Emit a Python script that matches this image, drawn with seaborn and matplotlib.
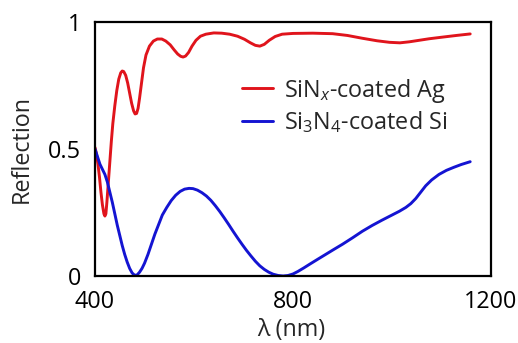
import matplotlib
matplotlib.use("Agg")
import matplotlib.pyplot as plt
import seaborn as sns
import pandas as pd

# Reflection spectra (wavelength in nm, reflection 0-1)
ag_wavelength = [400, 403, 406, 409, 412, 415, 418, 420, 422, 424, 427, 430, 433,
                 436, 440, 444, 448, 452, 455, 458, 462, 466, 470, 474, 478, 481,
                 484, 487, 490, 494, 498, 503, 510, 518, 526, 535, 543, 552, 560,
                 567, 573, 578, 583, 589, 596, 604, 613, 624, 640, 656, 672, 688,
                 702, 714, 724, 733, 742, 752, 764, 778, 800, 840, 880, 910, 940,
                 970, 995, 1016, 1035, 1055, 1075, 1100, 1130, 1158]
ag_reflection = [0.506, 0.48, 0.44, 0.39, 0.33, 0.28, 0.245, 0.236, 0.245, 0.29,
                 0.37, 0.45, 0.53, 0.60, 0.67, 0.73, 0.775, 0.80, 0.807, 0.805,
                 0.79, 0.76, 0.72, 0.68, 0.65, 0.638, 0.64, 0.66, 0.70, 0.76, 0.82,
                 0.87, 0.905, 0.925, 0.933, 0.933, 0.925, 0.91, 0.89, 0.874, 0.865,
                 0.862, 0.866, 0.88, 0.905, 0.928, 0.944, 0.952, 0.957, 0.956,
                 0.952, 0.944, 0.932, 0.918, 0.908, 0.905, 0.912, 0.928, 0.943,
                 0.952, 0.955, 0.956, 0.954, 0.947, 0.936, 0.926, 0.920, 0.918,
                 0.922, 0.928, 0.934, 0.940, 0.947, 0.953]

si_wavelength = [400, 405, 410, 415, 420, 425, 430, 435, 440, 445, 450, 455, 460,
                 465, 470, 475, 480, 485, 490, 495, 500, 507, 514, 521, 528, 536,
                 545, 554, 563, 572, 581, 590, 598, 607, 616, 625, 634, 643, 652,
                 661, 670, 679, 688, 697, 706, 715, 724, 733, 742, 751, 760, 770,
                 780, 790, 800, 810, 822, 835, 850, 866, 882, 900, 920, 940, 960,
                 980, 1000, 1015, 1028, 1038, 1048, 1058, 1068, 1080, 1095, 1110,
                 1125, 1140, 1158]
si_reflection = [0.50, 0.47, 0.44, 0.42, 0.40, 0.37, 0.33, 0.29, 0.245, 0.20,
                 0.16, 0.12, 0.085, 0.055, 0.03, 0.012, 0.003, 0.004, 0.015, 0.03,
                 0.05, 0.085, 0.125, 0.165, 0.20, 0.24, 0.27, 0.297, 0.318, 0.333,
                 0.342, 0.345, 0.344, 0.338, 0.328, 0.315, 0.298, 0.277, 0.254,
                 0.229, 0.203, 0.176, 0.150, 0.125, 0.101, 0.079, 0.058, 0.040,
                 0.026, 0.015, 0.007, 0.002, 0.0, 0.002, 0.008, 0.018, 0.032,
                 0.048, 0.066, 0.085, 0.104, 0.125, 0.150, 0.176, 0.199, 0.220,
                 0.24, 0.255, 0.27, 0.285, 0.305, 0.33, 0.355, 0.378, 0.40, 0.416,
                 0.428, 0.439, 0.45]

labels = [r"SiN$_{\mathit{x}}$-coated Ag", r"Si$_3$N$_4$-coated Si"]
colors = ["#e0141c", "#1414d2"]

x_ticks = [400, 600, 800, 1000, 1200]
x_tick_labels = ["400", "", "800", "", "1200"]
y_ticks = [0, 0.5, 1]
y_tick_labels = ["0", "0.5", "1"]

df = pd.concat([
    pd.DataFrame({"wl": ag_wavelength, "R": ag_reflection, "sample": labels[0]}),
    pd.DataFrame({"wl": si_wavelength, "R": si_reflection, "sample": labels[1]}),
])

sns.set_style("white")
plt.rcParams["font.family"] = ["Open Sans", "DejaVu Sans"]
plt.rcParams["mathtext.fontset"] = "custom"
plt.rcParams["mathtext.rm"] = "Open Sans"
plt.rcParams["mathtext.it"] = "Open Sans:italic"

FS = 16.8

fig = plt.figure(figsize=(5.18, 3.43), dpi=100)
ax = fig.add_axes([95 / 518, 1 - 276 / 343, 396 / 518, 254 / 343])

sns.lineplot(data=df, x="wl", y="R", hue="sample", palette=colors,
             linewidth=2.1, ax=ax, sort=False, estimator=None)

ax.set_xlim(400, 1200)
ax.set_ylim(0, 1)
ax.set_xticks(x_ticks)
ax.set_xticklabels(x_tick_labels)
ax.set_yticks(y_ticks)
ax.set_yticklabels(y_tick_labels)
ax.tick_params(axis="both", direction="out", length=7, width=1.6,
               labelsize=FS, pad=3, color="black", labelcolor="black")
for s in ax.spines.values():
    s.set_visible(True)
    s.set_linewidth(1.6)
    s.set_color("black")

ax.set_xlabel("λ (nm)", fontsize=FS)
ax.set_ylabel("Reflection", fontsize=FS)
ax.xaxis.set_label_coords(0.496, -0.167)
ax.yaxis.set_label_coords(-0.155, 0.5)

leg = ax.legend(loc="upper left", bbox_to_anchor=(0.37, 0.785), frameon=False,
                fontsize=FS, handlelength=1.35, handletextpad=0.45,
                labelspacing=0.2, borderaxespad=0, borderpad=0)

fig.savefig("out.png", dpi=100)
